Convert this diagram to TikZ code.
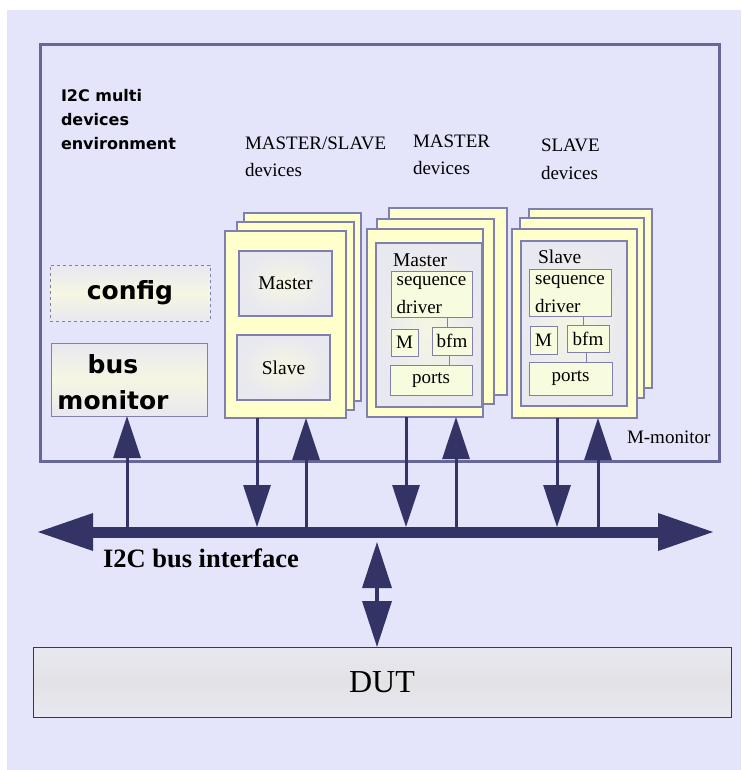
\documentclass[tikz,border=0pt]{standalone}
\usepackage{fontspec}
\setmainfont{Liberation Serif}
\newfontfamily\dvs{DejaVu Sans}
\usetikzlibrary{arrows.meta}
\definecolor{bgc}{RGB}{228,228,250}
\definecolor{envc}{RGB}{102,102,153}
\definecolor{cardc}{RGB}{255,255,204}
\definecolor{cardl}{RGB}{128,128,176}
\definecolor{navy}{RGB}{51,51,102}
\definecolor{inbox}{RGB}{248,252,222}
\definecolor{greyc}{RGB}{232,232,240}
\definecolor{yelc}{RGB}{246,246,226}
\newcommand{\fs}[2]{\fontsize{#1}{#2}\selectfont}
\begin{document}
\begin{tikzpicture}[x=1pt,y=-1pt,
  box/.style={anchor=north west,inner sep=0pt,outer sep=0pt},
  envbox/.style={box,draw=envc,line width=3pt},
  card/.style={box,draw=cardl,fill=cardc,line width=1.2pt},
  panel/.style={box,draw=cardl,line width=1.2pt,inner color=yelc,outer color=greyc},
  inb/.style={box,draw=cardl,fill=inbox,line width=1pt,font=\fs{19}{28}},
  sidebox/.style={box,draw=cardl,line width=1pt,top color=greyc,bottom color=greyc,middle color=yelc},
  link/.style={draw=cardl,line width=1pt},
  vline/.style={draw=navy,line width=3pt},
  uparr/.style={vline,-{Triangle[length=42pt,width=27pt]}},
  busarr/.style={draw=navy,line width=11pt,{Triangle[length=55pt,width=38pt,line width=0pt]}-{Triangle[length=55pt,width=38pt,line width=0pt]}},
  dblarr/.style={draw=navy,line width=3.5pt,{Triangle[length=46pt,width=29pt]}-{Triangle[length=46pt,width=29pt]}},
  serif/.style={inner sep=0pt,outer sep=0pt},
]
\useasboundingbox (0,0) rectangle (741,770);
\fill[white] (0,0) rectangle (741,770);
\fill[bgc] (7,10) rectangle (741,770);

% environment
\node[envbox,minimum width=679pt,minimum height=416pt] (env) at (40,45) {};
\node[serif,anchor=north west,align=left,font=\dvs\bfseries\fs{16}{24}] (title) at (61,89) {I2C multi\\devices\\environment};
\node[serif,anchor=north west,align=left,font=\fs{19}{27}] (lblms) at (245,137) {MASTER/SLAVE\\devices};
\node[serif,anchor=north west,align=left,font=\fs{19}{27}] (lblm) at (413,135) {MASTER\\devices};
\node[serif,anchor=north west,align=left,font=\fs{19}{28}] (lbls) at (541,139) {SLAVE\\devices};

% config and bus monitor
\node[sidebox,dashed,minimum width=160pt,minimum height=56pt,font=\dvs\bfseries\fs{25}{30}] (cfg) at (50,265) {config};
\node[sidebox,minimum width=156pt,minimum height=73pt] (bm) at (51,343) {};
\node[serif,align=center,font=\dvs\bfseries\fs{25}{36}] (bmt) at (113,382) {bus\\monitor};

% MASTER/SLAVE stack
\node[card,minimum width=117pt,minimum height=188pt] (ms3) at (244,213) {};
\node[card,minimum width=117pt,minimum height=188pt] (ms2) at (237,222) {};
\node[card,minimum width=121pt,minimum height=187pt] (ms1) at (225,231) {};
\node[panel,minimum width=93pt,minimum height=65pt,font=\fs{19.5}{24}] (msM) at (239,251) {Master};
\node[panel,minimum width=93pt,minimum height=65pt,font=\fs{19.5}{24}] (msS) at (237,335) {Slave};

% MASTER stack
\node[card,minimum width=118pt,minimum height=187pt] (m3) at (389,208) {};
\node[card,minimum width=117pt,minimum height=185pt] (m2) at (377,219) {};
\node[card,minimum width=116pt,minimum height=188pt] (m1) at (367,229) {};
\node[panel,minimum width=106pt,minimum height=164pt] (mP) at (376,243) {};
\node[serif,anchor=base west,font=\fs{19.5}{24}] (mLbl) at (393,266) {Master};
\node[inb,minimum width=81pt,minimum height=46pt,align=left] (mSeq) at (391,271) {\rule{0pt}{12pt}sequence\\driver};
\node[inb,minimum width=27pt,minimum height=27pt] (mM) at (391,329) {M};
\node[inb,minimum width=40pt,minimum height=28pt] (mB) at (432,327) {bfm};
\node[inb,minimum width=82pt,minimum height=30pt] (mPo) at (390,365) {ports};
\draw[link] ([xshift=-5pt]mB.north) -- ([xshift=-5pt]mB.north |- mSeq.south);
\draw[link] ([xshift=-3pt]mB.south) -- ([xshift=-3pt]mB.south |- mPo.north);

% SLAVE stack
\node[card,minimum width=123pt,minimum height=179pt] (s3) at (529,209) {};
\node[card,minimum width=124pt,minimum height=180pt] (s2) at (520,218) {};
\node[card,minimum width=125pt,minimum height=189pt] (s1) at (512,229) {};
\node[panel,minimum width=106pt,minimum height=165pt] (sP) at (521,241) {};
\node[serif,anchor=base west,font=\fs{19.5}{24}] (sLbl) at (538,263) {Slave};
\node[inb,minimum width=82pt,minimum height=47pt,align=left] (sSeq) at (529,269) {\rule{0pt}{12pt}sequence\\driver};
\node[inb,minimum width=27pt,minimum height=28pt] (sM) at (530,326) {M};
\node[inb,minimum width=42pt,minimum height=27pt] (sB) at (567,325) {bfm};
\node[inb,minimum width=83pt,minimum height=33pt] (sPo) at (529,362) {ports};
\draw[link] ([xshift=-5pt]sB.north) -- ([xshift=-5pt]sB.north |- sSeq.south);
\draw[link] ([xshift=-2pt]sB.south) -- ([xshift=-2pt]sB.south |- sPo.north);

\node[serif,anchor=base west,font=\fs{19}{24}] (mmon) at (627,443) {M-monitor};

% bus
\coordinate (busL) at (38,532);
\coordinate (busR) at (713,532);
\coordinate (busT) at (0,527);
\coordinate (busI) at (0,531);
\coordinate (busB) at (0,542);
\draw[busarr] (busL) -- (busR);
\node[serif,anchor=base west,font=\bfseries\fs{26.5}{30}] (bustxt) at (103,567) {I2C bus interface};

% vertical connectors
\draw[uparr] ([xshift=-2pt]bm.south |- busI) -- ([xshift=-2pt]bm.south);
\draw[uparr] ([xshift=-28.5pt]ms1.south) -- ([xshift=-28.5pt]ms1.south |- busT);
\draw[uparr] ([xshift=20.5pt]ms1.south |- busI) -- ([xshift=20.5pt]ms1.south);
\draw[uparr] ([xshift=-19pt]m1.south) -- ([xshift=-19pt]m1.south |- busT);
\draw[uparr] ([xshift=31pt]m1.south |- busI) -- ([xshift=31pt]m1.south);
\draw[uparr] ([xshift=-17.5pt]s1.south) -- ([xshift=-17.5pt]s1.south |- busT);
\draw[uparr] ([xshift=23.5pt]s1.south |- busI) -- ([xshift=23.5pt]s1.south);

% DUT
\node[box,draw=navy,line width=1pt,top color=greyc,bottom color=greyc,middle color={rgb,255:red,226;green,226;blue,230},minimum width=698pt,minimum height=70pt,font=\fs{32}{36}] (dut) at (33,647) {DUT};
\draw[dblarr] ([xshift=-5pt]dut.north |- busB) -- ([xshift=-5pt]dut.north);
\end{tikzpicture}
\end{document}
